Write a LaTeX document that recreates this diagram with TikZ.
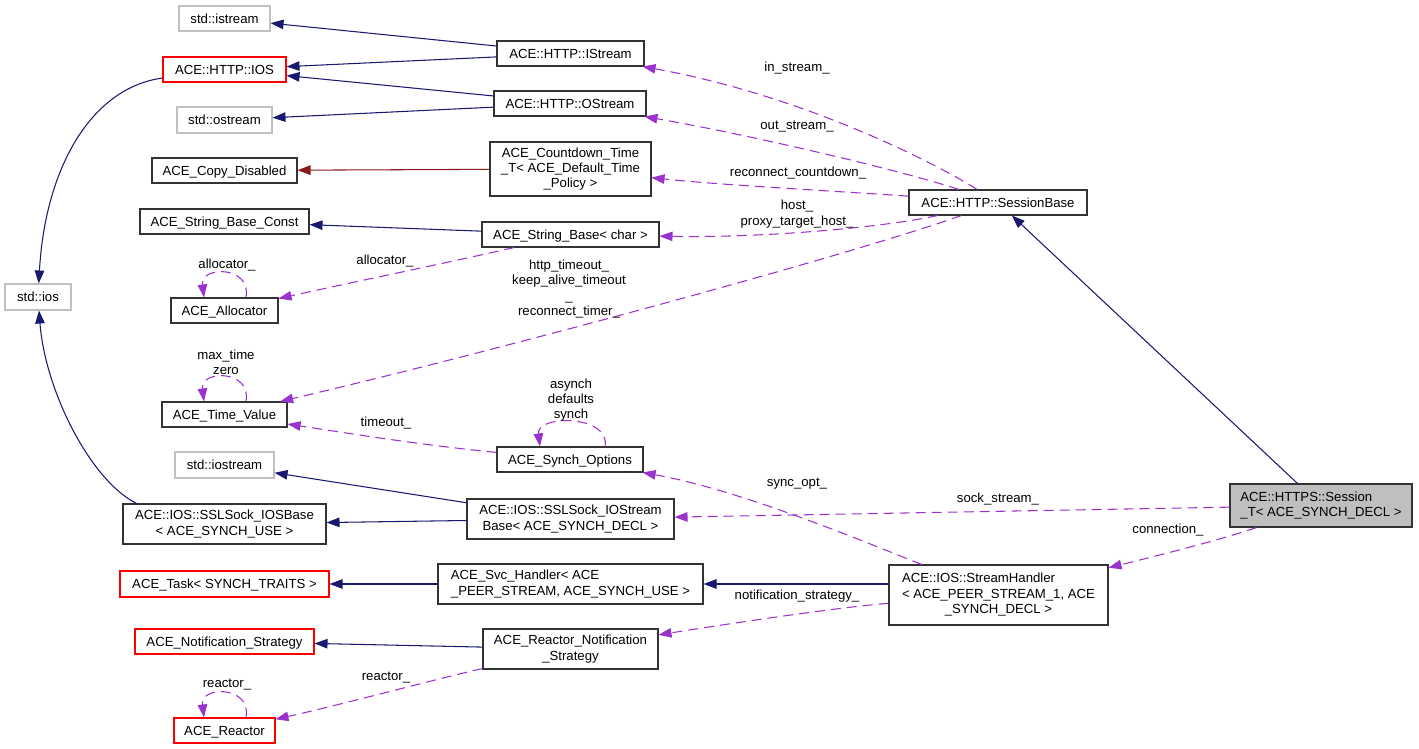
\documentclass[tikz,border=0pt]{standalone}
\usepackage{fontspec}
\setmainfont{Liberation Sans}
\usepackage{xcolor}
\usetikzlibrary{arrows.meta}

\definecolor{inhblue}{HTML}{191970}
\definecolor{privred}{HTML}{8B1A1A}
\definecolor{usepurple}{HTML}{9A32CD}
\definecolor{extgray}{HTML}{BFBFBF}
\definecolor{hidred}{HTML}{FF0000}
\definecolor{selfgray}{HTML}{BFBFBF}

\begin{document}
\begin{tikzpicture}[x=0.2mm,y=-0.2mm,
  font=\fontsize{7.5}{8.7}\selectfont,
  cls/.style 2 args={draw=black!80, fill=white, line width=0.6pt, inner sep=0pt,
    minimum width=#1*0.2mm, minimum height=#2*0.2mm, align=center},
  oneline/.style={text height=5.9pt, text depth=0.5pt},
  ext/.style={draw=extgray},
  hid/.style={draw=hidred},
  inherit/.style={draw=inhblue, line width=0.6pt, -{Triangle[length=2.6mm,width=1.9mm]}},
  privinh/.style={inherit, draw=privred},
  member/.style={draw=usepurple, line width=0.6pt, dash pattern=on 2mm off 1.2mm,
    -{Triangle[length=2.6mm,width=1.9mm]}},
  lbl/.style={inner sep=0pt, align=center}]
\useasboundingbox (0,0) rectangle (1419,749);

\node[cls={91}{25}, oneline, ext] (istream) at (224.5,18.5) {std::istream};
\node[cls={123}{25}, oneline, hid] (iosh) at (224.5,69.5) {ACE::HTTP::IOS};
\node[cls={95}{26}, oneline, ext] (ostream) at (224.5,120) {std::ostream};
\node[cls={145}{25}, oneline] (copydis) at (224.5,170.5) {ACE\_Copy\_Disabled};
\node[cls={169}{25}, oneline] (sbconst) at (224.5,221.5) {ACE\_String\_Base\_Const};
\node[cls={66}{26}, oneline, ext] (stdios) at (38,297) {std::ios};
\node[cls={107}{25}, oneline] (alloc) at (224.5,310.5) {ACE\_Allocator};
\node[cls={125}{25}, oneline] (timeval) at (224.5,414.5) {ACE\_Time\_Value};
\node[cls={99}{26}, oneline, ext] (iostream) at (224.5,465) {std::iostream};
\node[cls={203}{40}] (iosbase) at (224.5,524) {ACE::IOS::SSLSock\_IOSBase\\< ACE\_SYNCH\_USE >};
\node[cls={209}{26}, oneline, hid] (task) at (224.5,584) {ACE\_Task< SYNCH\_TRAITS >};
\node[cls={179}{25}, oneline, hid] (notif) at (224.5,641.5) {ACE\_Notification\_Strategy};
\node[cls={101}{25}, oneline, hid] (reactor) at (224.5,730.5) {ACE\_Reactor};

\node[cls={147}{25}, oneline] (httpistream) at (570.5,53.5) {ACE::HTTP::IStream};
\node[cls={152}{25}, oneline] (httpostream) at (570,103.5) {ACE::HTTP::OStream};
\node[cls={161}{54}] (countdown) at (570.5,169) {ACE\_Countdown\_Time\\\_T< ACE\_Default\_Time\\\_Policy >};
\node[cls={177}{25}, oneline] (sbchar) at (570.5,234.5) {ACE\_String\_Base< char >};
\node[cls={146}{25}, oneline] (synchopt) at (570,459.5) {ACE\_Synch\_Options};
\node[cls={207}{40}] (iostreambase) at (570.5,519) {ACE::IOS::SSLSock\_IOStream\\Base< ACE\_SYNCH\_DECL >};
\node[cls={265}{40}, align=left] (svc) at (570.5,584) {ACE\_Svc\_Handler< ACE\\\_PEER\_STREAM, ACE\_SYNCH\_USE >};
\node[cls={175}{40}] (rns) at (570.5,649) {ACE\_Reactor\_Notification\\\_Strategy};

\node[cls={178}{25}, oneline] (sessbase) at (998,202.5) {ACE::HTTP::SessionBase};
\node[cls={219}{60}] (streamh) at (998.5,595) {\begin{tabular}{@{}l@{}}ACE::IOS::StreamHandler\\< ACE\_PEER\_STREAM\_1, ACE\\\multicolumn{1}{@{}c@{}}{\_SYNCH\_DECL >}\end{tabular}};
\node[cls={182}{43}, fill=selfgray, align=left] (https) at (1321,505.5) {ACE::HTTPS::Session\\\_T< ACE\_SYNCH\_DECL >};

% inheritance
\draw[inherit] (httpistream) -- (istream);
\draw[inherit] (httpistream) -- (iosh);
\draw[inherit] (httpostream) -- (iosh);
\draw[inherit] (httpostream) -- (ostream);
\draw[privinh] (countdown) -- (copydis);
\draw[inherit] (sbchar) -- (sbconst);
\draw[inherit] (iosh) .. controls (90,88) and (45,170) .. (stdios);
\draw[inherit] ([xshift=2.8mm]iosbase.north west) .. controls (90,480) and (45,390) .. (stdios);
\draw[inherit] (iostreambase) -- (iostream);
\draw[inherit] (iostreambase) -- (iosbase);
\draw[inherit] (svc) -- (task);
\draw[inherit] (rns) -- (notif);
\draw[inherit] (streamh.west |- svc) -- (svc);
\draw[inherit] (https) -- (sessbase);

% members
\draw[member] (sessbase) .. controls (930,160) and (800,95) .. (httpistream);
\draw[member] (sessbase) .. controls (900,170) and (750,135) .. (httpostream);
\draw[member] (sessbase) .. controls (850,192) and (720,185) .. (countdown);
\draw[member] (sessbase) .. controls (880,228) and (760,238) .. (sbchar);
\draw[member] (sessbase) .. controls (850,255) and (500,350) .. (timeval);
\draw[member] (sbchar) .. controls (460,260) and (340,285) .. (alloc);
\draw[member] (synchopt) .. controls (420,445) and (340,432) .. (timeval);
\draw[member] (streamh) .. controls (860,540) and (740,490) .. (synchopt);
\draw[member] (https) -- (iostreambase);
\draw[member] (https) .. controls (1220,540) and (1160,555) .. (streamh);
\draw[member] (streamh) .. controls (840,607) and (720,625) .. (rns);
\draw[member] (rns) .. controls (440,678) and (340,705) .. (reactor);
\draw[member] ([xshift=4.3mm]alloc.north) .. controls +(6,-32) and +(-4,-32) .. ([xshift=-4.1mm]alloc.north);
\draw[member] ([xshift=4.3mm]timeval.north) .. controls +(6,-32) and +(-4,-32) .. ([xshift=-4.1mm]timeval.north);
\draw[member] ([xshift=7mm]synchopt.north) .. controls +(6,-32) and +(-4,-32) .. ([xshift=-6mm]synchopt.north);
\draw[member] ([xshift=4.3mm]reactor.north) .. controls +(6,-32) and +(-4,-32) .. ([xshift=-4.1mm]reactor.north);

\node[lbl] (lblin) at (797,68) {in\_stream\_};
\node[lbl] (lblout) at (797,127) {out\_stream\_};
\node[lbl] (lblreconn) at (798,173) {reconnect\_countdown\_};
\node[lbl] (lblhost) at (797,214) {host\_\\proxy\_target\_host\_};
\node[lbl] (lbltimeout) at (569,289) {http\_timeout\_\\keep\_alive\_timeout\\\_\\reconnect\_timer\_};
\node[lbl] (lblalloc) at (385,261) {allocator\_};
\node[lbl] (lblallocself) at (227,265) {allocator\_};
\node[lbl] (lbltvself) at (226,362) {max\_time\\zero};
\node[lbl] (lbltimeo) at (386,423) {timeout\_};
\node[lbl] (lblsynchself) at (571,400) {asynch\\defaults\\synch};
\node[lbl] (lblsyncopt) at (797,484) {sync\_opt\_};
\node[lbl] (lblsock) at (998,499) {sock\_stream\_};
\node[lbl] (lblconn) at (1168,530) {connection\_};
\node[lbl] (lblnotif) at (797,596) {notification\_strategy\_};
\node[lbl] (lblreactor) at (386,678) {reactor\_};
\node[lbl] (lblreactorself) at (227,685) {reactor\_};
\end{tikzpicture}
\end{document}
